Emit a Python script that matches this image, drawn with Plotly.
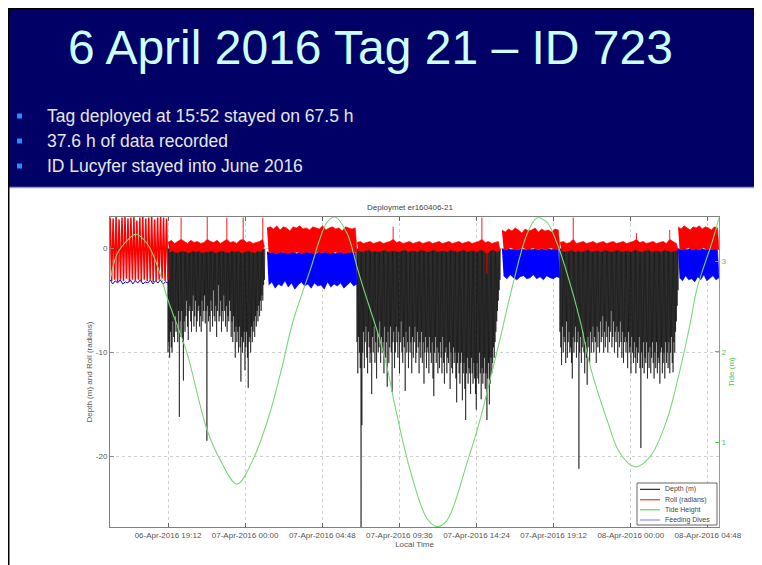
import numpy as np
import pandas as pd
import plotly.graph_objects as go

T0 = pd.Timestamp("2016-04-06 00:00")

# ---------------- data (hours after 06-Apr-2016 00:00) ----------------
tick_hours = [19.2, 24.0, 28.8, 33.6, 38.4, 43.2, 48.0, 52.8]
tick_labels = ["06-Apr-2016 19:12", "07-Apr-2016 00:00", "07-Apr-2016 04:48",
               "07-Apr-2016 09:36", "07-Apr-2016 14:24", "07-Apr-2016 19:12",
               "08-Apr-2016 00:00", "08-Apr-2016 04:48"]

tide_hours = [15.65, 16.03, 16.71, 17.21, 17.89, 18.52, 19.20, 19.76, 20.38, 21.63,
              22.44, 23.49, 24.49, 25.55, 26.36, 26.92, 28.04, 29.09, 29.59, 30.34,
              30.96, 31.33, 32.39, 32.83, 33.33, 34.26, 35.32, 35.94, 36.56, 37.87,
              38.62, 39.24, 39.74, 40.67, 41.54, 42.16, 42.78, 43.41, 44.03, 44.84,
              45.46, 46.52, 47.33, 48.26, 49.19, 50.25, 51.06, 51.68, 52.12, 53.11, 53.49]
tide_m = [2.83, 3.08, 3.24, 3.30, 3.20, 2.96, 2.57, 2.30, 1.99, 1.14,
          0.81, 0.54, 0.81, 1.33, 1.88, 2.30, 2.90, 3.43, 3.49, 3.31,
          2.94, 2.72, 2.13, 1.83, 1.40, 0.70, 0.16, 0.07, 0.14, 0.81,
          1.25, 1.69, 2.05, 2.75, 3.30, 3.48, 3.43, 3.20, 2.87, 2.35,
          1.85, 1.25, 0.88, 0.73, 0.84, 1.25, 1.80, 2.30, 2.70, 3.24, 3.48]

# recording phases: (start h, end h)
seg_A = (15.60, 19.20)   # surface
seg_B = (19.20, 25.20)   # diving bout 1
seg_C = (25.36, 30.96)   # surface
seg_D = (30.96, 39.86)   # diving bout 2
seg_E = (39.98, 43.59)   # surface
seg_F = (43.59, 50.94)   # diving bout 3
seg_G = (50.94, 53.49)   # surface

# dive maximum depths (m) for each bout
dives_B = [10, 9, 10.5, 8, 9.5, 10, 7, 8.5, 9, 6.5,
           8, 7.5, 9, 6, 16.2, 7, 8.5, 6, 9, 12.7,
           7, 8, 6.5, 5, 7.5, 8.8, 6, 5.5, 7, 8,
           6, 4.5, 7.5, 6.5, 5, 8, 7, 6, 5.5, 7.5,
           6.5, 8, 5, 7, 6, 4.5, 7.2, 6, 18.5, 5.5,
           7, 6.5, 8, 5, 6, 7.5, 4, 6.5, 7, 5.5,
           8.5, 6, 3.5, 7, 6.5, 5, 8, 6, 7, 4.5,
           6, 7.5, 5.5, 8, 6.5, 7, 5, 6, 8.5, 7,
           9, 6.5, 8, 10.5, 7.5, 9, 8, 10, 7.5, 9.5,
           12.8, 8.5, 10, 9, 8, 11.7, 9.5, 8, 10.5, 13.4,
           9, 8.5, 10, 7.5, 9, 8, 7, 8.5, 6.5, 7.5,
           6, 7, 5.5, 6.5, 5, 6, 4.5, 5, 3.5, 3]
dives_D = [9, 12, 8.5, 10, 11.5, 26.8, 17, 10, 8, 11.5,
           9, 7.5, 10.5, 12, 8, 9.5, 11, 10, 14, 8.5,
           10, 7.5, 11, 9, 12.5, 8, 10, 9.5, 7, 11,
           8.5, 10, 9, 12, 7.5, 10.5, 9, 13.3, 8, 11,
           9.5, 7.5, 10, 13.8, 9, 8, 11.5, 10, 7.5, 9,
           10.5, 8, 12, 9, 7, 10, 11, 8.5, 9.5, 13.7,
           8, 10, 9, 11.5, 7.5, 10, 9, 12, 8.5, 10.5,
           9, 7.5, 11, 10, 8, 9.5, 12, 9, 10.5, 8,
           11, 9, 13, 10, 8.5, 11.5, 9.5, 10, 12, 8.5,
           10, 11, 9, 12.5, 14.2, 10, 8.5, 11, 9.5, 12,
           10, 11.5, 9, 10.5, 12, 8.5, 11, 13, 10, 9.5,
           12, 10.5, 11, 9, 13.5, 10, 11.5, 12, 9.5, 11,
           10, 12.5, 14.8, 11, 10, 12, 13, 11, 10, 14.6,
           12, 11, 13.5, 16.5, 12, 10.5, 13, 11.5, 12, 14,
           10.5, 12, 13, 11, 12.5, 14, 15.5, 11, 12.5, 13,
           10, 12, 14.5, 11.5, 13, 12, 10.5, 13.5, 12, 16.5,
           12.5, 11, 15, 13, 10.5, 12, 11, 9.5, 10.5, 9,
           8, 7, 6, 5, 4, 3]
dives_F = [8, 9.5, 11.2, 7.5, 10, 8.5, 9, 11, 7, 10.5,
           9, 8, 10, 9.5, 11, 12.5, 8.5, 10, 9, 7.5,
           10.5, 9, 8, 21.2, 10, 8.5, 11, 9.5, 8, 10,
           12, 9, 10.5, 13.1, 8.5, 9.5, 11, 8, 10, 9,
           7.5, 10, 8.5, 9, 11, 7.5, 9.5, 8, 10, 7,
           9, 8.5, 6.5, 10, 8, 9.5, 7, 8.5, 10, 7.5,
           9, 8, 6, 9.5, 8.5, 7, 10, 8, 9, 7.5,
           10.5, 8, 9.5, 7, 9, 10.5, 8, 11, 9, 8.5,
           10, 9, 11.5, 8, 10, 9.5, 12, 8.5, 10, 11,
           9, 10.5, 12, 9.5, 11, 10, 8.5, 11.5, 19.2, 10,
           11.5, 9, 12, 10.5, 11, 9, 12.5, 10, 11.5, 9.5,
           12, 10.5, 9, 11, 12.5, 10, 11.5, 9, 12, 10.5,
           11, 13, 10, 9.5, 12, 11, 10, 12.5, 9, 11,
           10, 11.5, 9, 12, 10, 8.5, 11, 11.9, 9, 10,
           8, 7, 5.5, 4]

# roll (radians): alternating swing maxima / minima per phase
roll_A = [3.0, -3.1, 2.9, -3.0, 3.1, -3.2, 2.8, -3.0, 3.0, -3.1,
          3.1, -2.9, 2.9, -3.2, 3.0, -3.0, 3.1, -3.1, 2.7, -3.0,
          3.0, -3.2, 3.1, -3.0, 2.9, -3.1, 3.0, -3.0, 3.1, -3.2,
          2.8, -3.1, 3.0, -3.0, 3.1, -2.9, 3.0, -3.1, 2.9, -3.0]
roll_B = [0.6, -0.3, 0.8, -0.2, 0.5, -0.4, 0.7, -0.3, 3.0, -0.2,
          0.7, -0.3, 0.5, -0.4, 0.8, -0.2, 0.6, -0.3, 0.7, -0.2,
          0.5, -0.4, 0.6, -0.3, 3.1, -0.3, 0.7, -0.2, 0.6, -0.4,
          0.8, -0.3, 0.5, -0.2, 0.7, -0.3, 3.0, -0.4, 0.6, -0.2,
          0.7, -0.3, 0.5, -0.2, 0.8, -0.4, 3.0, -0.3, 0.6, -0.2,
          0.7, -0.3, 0.5, -0.4, 0.6, -0.2, 0.7, -0.3, 3.0, 0.2]
roll_C = [2.0, -0.4, 2.1, -0.3, 1.9, -0.5, 2.2, -0.4, 1.8, -0.3,
          2.1, -0.4, 2.0, -0.5, 1.7, -0.3, 2.1, -0.4, 2.0, -0.3,
          2.2, -0.5, 1.9, -0.4, 2.0, -0.3, 1.8, -0.4, 2.1, -0.5,
          2.0, -0.3, 1.9, -0.4, 2.2, -0.3, 1.8, -0.4, 2.0, -0.5,
          2.1, -0.3, 1.9, -0.4, 2.0, -0.3, 1.7, -0.5, 2.1, -0.4,
          2.0, -0.3, 1.9, -0.4, 2.0, -0.3]
roll_D = [0.6, -0.2, 0.7, -0.3, 0.5, -0.2, 0.6, -0.1, 0.7, -0.3,
          0.5, -0.2, 0.6, -0.3, 0.7, -0.2, 0.5, -0.1, 0.6, -0.3,
          0.7, -0.2, 2.1, -0.2, 0.6, -0.3, 0.7, -0.2, 0.5, -0.1,
          0.6, -0.3, 0.7, -0.2, 0.5, -0.2, 0.6, -0.3, 0.7, -0.1,
          0.5, -0.2, 0.6, -0.3, 0.7, -0.2, 0.5, -0.1, 0.6, -0.3,
          0.7, -0.2, 0.5, -0.2, 0.6, -0.3, 0.7, -0.1, 0.5, -0.2,
          0.6, -0.3, 0.7, -0.2, 0.5, -0.1, 0.6, -0.3, 0.7, -0.2,
          0.5, -0.2, 0.6, -0.3, 0.7, -0.1, 3.0, -0.2, 0.6, -2.4,
          0.7, -0.2, 0.5, -0.1, 0.6, -0.3, 0.7, -0.2]
roll_E = [1.8, 0.0, 1.6, -0.1, 1.9, 0.1, 1.7, 0.0, 2.0, -0.1,
          1.8, 0.0, 1.5, 0.1, 1.9, -0.1, 1.7, 0.0, 1.8, 0.1,
          2.0, -0.1, 1.6, 0.0, 1.9, 0.0, 1.7, -0.1, 1.8, 0.1,
          1.6, 0.0, 1.9, -0.1, 1.8, 0.0]
roll_F = [0.6, -0.2, 0.7, -0.3, 0.5, -0.2, 0.6, -0.1, 3.0, -0.3,
          0.5, -0.2, 0.6, -0.3, 0.7, -0.2, 0.5, -0.1, 0.6, -0.3,
          0.7, -0.2, 0.5, -0.2, 0.6, -0.3, 0.7, -0.1, 0.5, -0.2,
          0.6, -0.3, 0.7, -0.2, 0.5, -0.1, 0.6, -0.3, 0.7, -0.2,
          0.5, -0.2, 0.6, -0.3, 0.7, -0.1, 1.5, -0.2, 0.6, -0.3,
          0.7, -0.2, 0.5, -0.1, 0.6, -0.3, 0.7, -0.2, 0.5, -0.2,
          0.6, -0.3, 0.7, -0.1, 0.5, -0.2, 1.8, -0.3, 0.7, -0.2,
          0.5, -0.1]
roll_G = [2.1, 0.0, 1.9, -0.1, 2.2, 0.0, 2.0, 0.1, 1.8, -0.1,
          2.1, 0.0, 2.0, -0.1, 2.2, 0.0, 1.9, 0.1, 2.1, -0.1,
          2.0, 0.0, 1.8, -0.1, 2.1, 0.0, 2.0, -0.1]

# feeding-dive signal per surface phase (alternating maxima / minima)
feed_A = [-3.0, -3.4, -3.1, -3.3, -3.0, -3.4, -3.2, -3.3, -3.0, -3.4,
          -3.1, -3.3, -3.0, -3.4, -3.2, -3.3, -3.0, -3.4, -3.1, -3.3,
          -3.0, -3.4, -3.2, -3.3]
feed_C = [-0.3, -3.5, -0.4, -3.2, -0.3, -3.8, -0.5, -3.4, -0.3, -3.6,
          -0.4, -3.1, -0.3, -3.7, -0.4, -3.3, -0.3, -3.9, -0.5, -3.5,
          -0.3, -3.2, -0.4, -3.6, -0.3, -3.4, -0.4, -3.8, -0.3, -3.3,
          -0.5, -3.6, -0.3, -3.5, -0.4, -3.9, -0.3, -3.2, -0.4, -3.7,
          -0.3, -3.4, -0.5, -3.6, -0.3, -3.3, -0.4, -3.8, -0.3, -3.5,
          -0.4, -3.2, -0.3, -3.6, -0.4, -3.4]
feed_E = [0.0, -2.6, -0.1, -2.9, 0.0, -2.5, -0.1, -2.8, 0.0, -3.0,
          -0.1, -2.7, 0.0, -2.6, -0.1, -2.9, 0.0, -2.8, -0.1, -2.5,
          0.0, -2.9, -0.1, -2.7, 0.0, -3.0, -0.1, -2.6, 0.0, -2.8,
          -0.1, -2.9, 0.0, -2.7, -0.1, -2.8]
feed_G = [0.0, -2.8, -0.1, -3.1, 0.0, -2.6, -0.1, -3.0, 0.0, -2.9,
          -0.1, -3.2, 0.0, -2.7, -0.1, -3.0, 0.0, -2.5, -0.1, -3.1,
          0.0, -2.9, -0.1, -2.6, 0.0, -3.0, -0.1, -2.8]

# ---------------- helpers ----------------
def ts(h):
    return T0 + pd.to_timedelta(np.asarray(h, dtype=float), unit="h")


def samples(seg, vals):
    t = np.linspace(seg[0], seg[1], len(vals))
    return list(ts(t)), list(vals)


def band(seg, vals, cap=None, floor=None):
    """Outline of a swinging signal (maxima forward, minima back).
    Excursions beyond cap/floor are returned separately as thin strokes."""
    t = np.linspace(seg[0], seg[1], len(vals))
    hi_t, lo_t = list(t[0::2]), list(t[1::2])
    hi_v, lo_v = list(vals[0::2]), list(vals[1::2])
    sx, sy = [], []
    if cap is not None:
        for tt, v in zip(hi_t, hi_v):
            if v > cap:
                sx += [tt, tt, None]
                sy += [cap, v, None]
        hi_v = [min(v, cap) for v in hi_v]
    if floor is not None:
        for tt, v in zip(lo_t, lo_v):
            if v < floor:
                sx += [tt, tt, None]
                sy += [floor, v, None]
        lo_v = [max(v, floor) for v in lo_v]
    poly = (list(ts(hi_t + lo_t[::-1])), hi_v + lo_v[::-1])
    strokes = ([None if v is None else ts([v])[0] for v in sx], sy)
    return poly, strokes


def dives(seg, depths):
    t = np.linspace(seg[0], seg[1], len(depths))
    half = (t[1] - t[0]) / 2.0
    hx, yy = [], []
    for ti, d in zip(t, depths):
        hx += [ti - half, ti]
        yy += [0.0, -d]
    hx.append(seg[1] + half)
    yy.append(0.0)
    return list(ts(hx)), yy


def join(parts):
    xs, ys = [], []
    for i, (x, y) in enumerate(parts):
        if i:
            xs.append(None)
            ys.append(None)
        xs += x
        ys += y
    return xs, ys


depth_x, depth_y = join([dives(seg_B, dives_B), dives(seg_D, dives_D), dives(seg_F, dives_F)])
rollA_x, rollA_y = samples(seg_A, roll_A)
roll_bands = [band(seg_B, roll_B, 0.9, -0.5), band(seg_C, roll_C), band(seg_D, roll_D, 0.9, -0.5),
              band(seg_E, roll_E), band(seg_F, roll_F, 0.9, -0.5), band(seg_G, roll_G)]
roll_x, roll_y = join([b[0] for b in roll_bands])
spike_x = sum([b[1][0] for b in roll_bands], [])
spike_y = sum([b[1][1] for b in roll_bands], [])
feedA_x, feedA_y = samples(seg_A, feed_A)
feed_x, feed_y = join([band(s, v)[0] for s, v in [(seg_C, feed_C), (seg_E, feed_E), (seg_G, feed_G)]])

RED, BLUE = "#ff0000", "#0000ff"
GREEN = "#55c655"
TIDE_LINE = "#77d977"

fig = go.Figure()
fig.add_trace(go.Scatter(x=depth_x, y=depth_y, mode="lines", name="Depth (m)",
                         line=dict(color="black", width=0.6), connectgaps=False))
fig.add_trace(go.Scatter(x=feedA_x, y=feedA_y, mode="lines", name="Feeding Dives",
                         line=dict(color=BLUE, width=1.0)))
fig.add_trace(go.Scatter(x=feed_x, y=feed_y, mode="lines", name="Feeding Dives",
                         fill="toself", fillcolor=BLUE, line=dict(color=BLUE, width=0.6)))
fig.add_trace(go.Scatter(x=rollA_x, y=rollA_y, mode="lines", name="Roll (radians)",
                         line=dict(color=RED, width=1.5)))
fig.add_trace(go.Scatter(x=roll_x, y=roll_y, mode="lines", name="Roll (radians)",
                         fill="toself", fillcolor=RED, line=dict(color=RED, width=0.6)))
fig.add_trace(go.Scatter(x=spike_x, y=spike_y, mode="lines", name="Roll (radians)",
                         line=dict(color=RED, width=0.9), connectgaps=False))
fig.add_trace(go.Scatter(x=list(ts(tide_hours)), y=tide_m, mode="lines", name="Tide Height",
                         yaxis="y2", line=dict(color=TIDE_LINE, width=1.1, shape="spline",
                                               smoothing=1.0)))

# ---------------- layout geometry (figure pixels) ----------------
OFF = 8  # page offset of the figure inside the browser window
L, R, T, B = 110 - OFF, 719 - OFF, 217 - OFF, 527 - OFF
W, H = R - L, B - T


def px(x):
    return (x - OFF - L) / W


def py(y):
    return (B - (y - OFF)) / H


shapes = [
    dict(type="rect", xref="paper", yref="paper", x0=px(9), x1=px(780), y0=py(187), y1=py(9),
         fillcolor="#000066", line=dict(width=0), layer="below"),
    dict(type="line", xref="paper", yref="paper", x0=px(9), x1=px(780), y0=py(187.5), y1=py(187.5),
         line=dict(color="#9a9ac8", width=1.5)),
    dict(type="line", xref="paper", yref="paper", x0=px(8), x1=px(780), y0=py(8.5), y1=py(8.5),
         line=dict(color="black", width=2)),
    dict(type="line", xref="paper", yref="paper", x0=px(8.5), x1=px(8.5), y0=py(8), y1=py(580),
         line=dict(color="black", width=2)),
]
for yb in [116, 141, 166]:
    shapes.append(dict(type="rect", xref="paper", yref="paper", x0=px(17), x1=px(22),
                       y0=py(yb + 2.5), y1=py(yb - 2.5), fillcolor="#2a8cff", line=dict(width=0)))

# legend box
shapes.append(dict(type="rect", xref="paper", yref="paper", x0=px(637), x1=px(717),
                   y0=py(525), y1=py(483), fillcolor="white", line=dict(color="#666", width=1)))
legend_items = [("Depth (m)", "black", 489.3), ("Roll (radians)", RED, 499.8),
                ("Tide Height", "#33cc33", 509.8), ("Feeding Dives", "#7777ff", 520.0)]
annotations = []
for name, col, yy in legend_items:
    shapes.append(dict(type="line", xref="paper", yref="paper", x0=px(640), x1=px(660),
                       y0=py(yy), y1=py(yy), line=dict(color=col, width=1)))
    annotations.append(dict(text=name, xref="paper", yref="paper", x=px(663), y=py(yy),
                            xanchor="left", yanchor="middle", showarrow=False,
                            font=dict(size=7, color="#444")))

annotations.append(dict(text="6 April 2016 Tag 21 \u2013 ID 723", xref="paper", yref="paper",
                        x=px(370), y=py(47), xanchor="center", yanchor="middle", showarrow=False,
                        font=dict(family="Liberation Sans, Arial, sans-serif", size=48,
                                  color="#ccffff")))
for txt, yb in [("Tag deployed at 15:52 stayed on 67.5 h", 116),
                ("37.6 h of data recorded", 141),
                ("ID Lucyfer stayed into June 2016", 166)]:
    annotations.append(dict(text=txt, xref="paper", yref="paper", x=px(45), y=py(yb),
                            xanchor="left", yanchor="middle", showarrow=False,
                            font=dict(family="Liberation Sans, Arial, sans-serif", size=17.5,
                                      color="#e6e6e6")))

fig.update_layout(
    width=762, height=565,
    margin=dict(l=L, r=762 - R, t=T, b=565 - B, autoexpand=False),
    paper_bgcolor="white", plot_bgcolor="white",
    showlegend=False,
    font=dict(family="Liberation Sans, Arial, sans-serif", size=8, color="#444"),
    title=dict(text="Deploymet er160406-21", x=(410 - OFF) / 762, xref="container",
               xanchor="center", y=1 - (207 - OFF) / 565, yref="container", yanchor="middle",
               font=dict(size=8, color="#444")),
    xaxis=dict(type="date", range=[ts(15.59), ts(53.49)], tickvals=list(ts(tick_hours)),
               ticktext=tick_labels, ticks="inside", ticklen=4, tickcolor="#666",
               showline=True, linecolor="#808080", linewidth=1, mirror="ticks",
               showgrid=True, gridcolor="#cfcfcf", griddash="dot", zeroline=False,
               tickfont=dict(size=8, color="#555"),
               title=dict(text="Local Time", standoff=2, font=dict(size=8, color="#555"))),
    yaxis=dict(range=[-26.8, 3.05], tickvals=[-20, -10, 0], ticktext=["-20", "-10", "0"],
               ticks="inside", ticklen=4, tickcolor="#888", showline=True, linecolor="#808080",
               linewidth=1, showgrid=True, gridcolor="#cfcfcf", griddash="dot", zeroline=False,
               tickfont=dict(size=8, color="#555"),
               title=dict(text="Depth (m) and Roll (radians)", standoff=2,
                          font=dict(size=8, color="#555"))),
    yaxis2=dict(overlaying="y", side="right", range=[0.066, 3.49], tickvals=[1, 2, 3],
                ticks="inside", ticklen=4, tickcolor=GREEN, showline=True, linecolor=GREEN,
                linewidth=1, showgrid=False, zeroline=False,
                tickfont=dict(size=8, color=GREEN),
                title=dict(text="Tide (m)", standoff=2, font=dict(size=8, color=GREEN))),
    shapes=shapes,
    annotations=annotations,
)

fig.write_html("out.html")
